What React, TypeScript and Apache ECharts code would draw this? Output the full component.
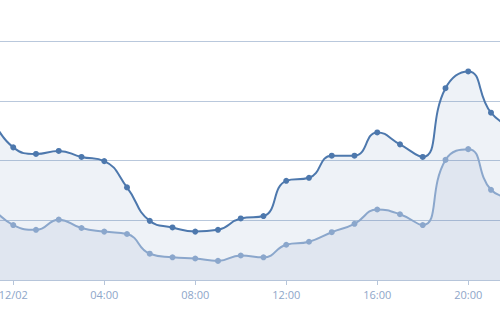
import React, { useEffect, useRef } from "react";
import * as echarts from "echarts";

const categories = [
  "23:00", "12/02", "01:00", "02:00", "03:00", "04:00", "05:00", "06:00", "07:00",
  "08:00", "09:00", "10:00", "11:00", "12:00", "13:00", "14:00", "15:00", "16:00",
  "17:00", "18:00", "19:00", "20:00", "21:00", "22:00",
];

const seriesA = [
  276, 222, 211, 216, 206, 199, 155, 99, 88, 81, 84, 103, 107, 166, 171, 208, 208,
  247, 227, 206, 321, 349, 280, 254,
];

const seriesB = [
  125, 92, 84, 101, 87, 81, 77, 44, 38, 36, 32, 41, 38, 59, 64, 80, 94, 118, 110, 92,
  201, 219, 151, 137,
];

export default function App() {
  const ref = useRef<HTMLDivElement>(null);
  useEffect(() => {
    if (!ref.current) return;
    const chart = echarts.init(ref.current, undefined, { renderer: "svg" });
    const showIdx = (idx: number) => (idx - 1) % 4 === 0;
    chart.setOption({
      animation: false,
      grid: { left: 10.5, right: 6.25, top: 41, bottom: 50 },
      xAxis: {
        type: "category",
        boundaryGap: false,
        data: categories,
        axisLine: { lineStyle: { color: "#b6c5da", width: 1 } },
        axisTick: { interval: showIdx, length: 5, lineStyle: { color: "#b6c5da" } },
        axisLabel: {
          interval: showIdx,
          color: "#8ea6c9",
          fontSize: 11,
          fontFamily: "Open Sans, sans-serif",
          margin: 9,
        },
        splitLine: { show: false },
      },
      yAxis: {
        type: "value",
        min: 0,
        max: 400,
        interval: 100,
        axisLabel: { show: false },
        axisLine: { show: false },
        axisTick: { show: false },
        splitLine: { lineStyle: { color: "#b9c8dc", width: 1.2 } },
      },
      series: [
        {
          type: "line",
          data: seriesA,
          smooth: true,
          symbol: "circle",
          symbolSize: 6,
          lineStyle: { color: "#4d78ad", width: 2 },
          itemStyle: { color: "#4d78ad" },
          areaStyle: { color: "rgba(77,120,173,0.095)", opacity: 1 },
        },
        {
          type: "line",
          data: seriesB,
          smooth: true,
          symbol: "circle",
          symbolSize: 6,
          lineStyle: { color: "#8ba7cc", width: 2 },
          itemStyle: { color: "#8ba7cc" },
          areaStyle: { color: "rgba(77,110,170,0.085)", opacity: 1 },
        },
      ],
    });
    return () => chart.dispose();
  }, []);
  return (
    <div
      style={{
        position: "fixed",
        left: 0,
        top: 0,
        width: 500,
        height: 330,
        overflow: "hidden",
        background: "#fff",
      }}
    >
      <div ref={ref} style={{ position: "absolute", left: -20, top: 0, width: 540, height: 330 }} />
    </div>
  );
}
